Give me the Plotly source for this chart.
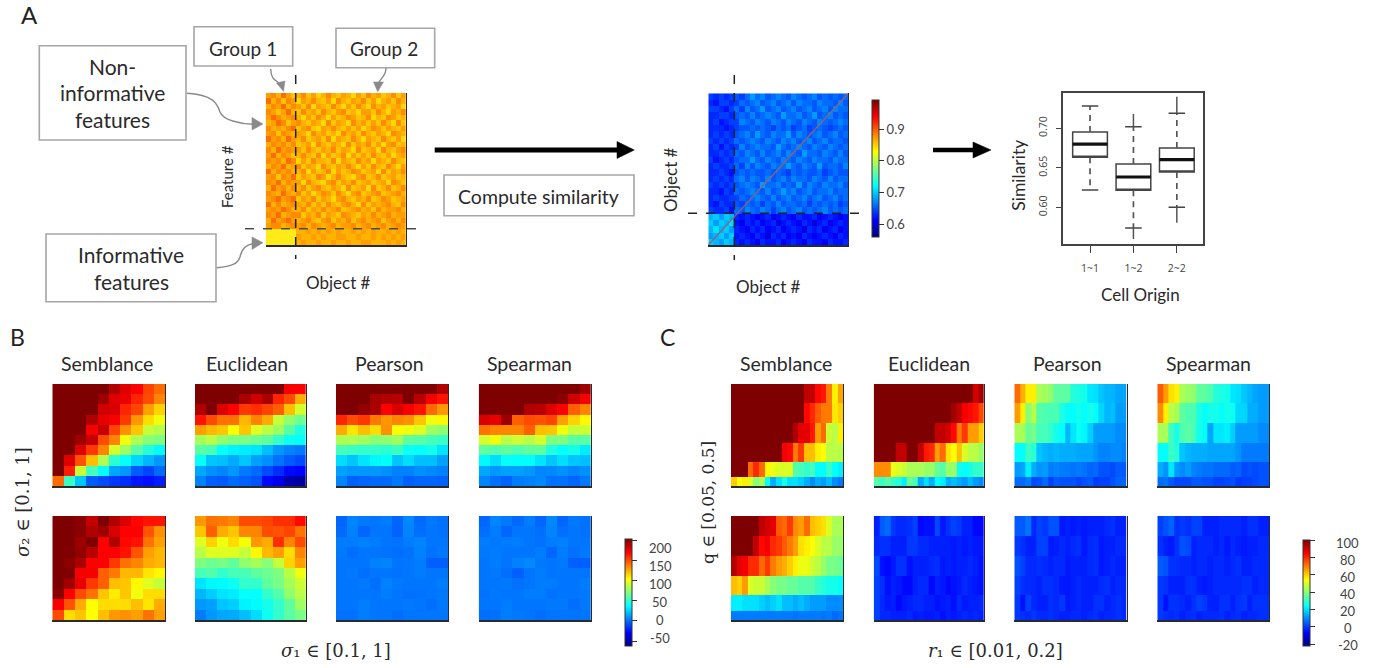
import plotly.graph_objects as go

W, H = 1382, 668

JET = [[0, "#00007F"], [0.125, "#0000FF"], [0.25, "#007FFF"], [0.375, "#00FFFF"], [0.5, "#7FFF7F"],
       [0.625, "#FFFF00"], [0.75, "#FF7F00"], [0.875, "#FF0000"], [1, "#7F0000"]]
HEAT = [[0, "#EE2C00"], [0.3, "#FF8400"], [0.5, "#FFA800"], [0.7, "#FFCC00"], [0.87, "#FFE800"], [1, "#FFFFA0"]]

# ---------- panel A: features (top row first) ----------
a_features = [
[4,3,5,2,4,6,5,3,6,4,7,5,3,5,6,4,5,7,4,6,3,5,4,6,5,3,6,4],
[2,5,3,6,3,4,7,4,5,3,5,6,4,7,3,5,6,4,5,3,6,4,7,5,4,6,3,5],
[5,3,4,2,5,3,4,6,3,7,4,5,6,3,5,7,4,6,3,5,7,3,5,4,6,5,4,7],
[3,4,6,4,2,5,6,3,5,4,6,3,5,6,4,3,6,5,7,4,4,6,3,5,7,4,5,3],
[4,2,3,5,4,3,5,7,4,6,3,5,7,4,6,5,3,4,6,5,3,7,5,6,3,4,6,5],
[5,4,2,3,6,4,3,5,6,4,5,7,3,6,4,5,7,3,5,4,6,4,6,3,5,7,3,6],
[3,5,4,5,3,2,6,4,3,6,7,4,5,3,5,6,4,6,4,7,5,3,4,6,4,5,6,4],
[4,3,6,3,4,5,4,5,7,3,5,4,6,5,7,3,5,4,6,3,5,6,4,5,7,3,4,5],
[2,4,3,5,2,4,5,3,6,5,4,6,3,7,4,5,6,3,5,7,4,5,6,3,5,6,4,7],
[5,3,4,3,5,3,6,5,4,7,3,5,6,4,5,7,3,6,4,5,3,6,4,7,4,3,6,5],
[3,5,2,4,3,4,4,6,3,5,6,4,5,3,6,4,5,7,3,6,5,4,7,3,5,6,4,3],
[4,2,5,3,4,6,5,3,5,6,3,7,4,6,5,3,7,4,6,4,6,3,5,6,4,7,5,4],
[3,4,3,5,2,3,7,4,6,3,5,5,6,3,7,4,5,6,3,5,4,7,4,5,6,3,5,6],
[5,3,4,2,5,4,3,6,4,5,7,3,5,6,4,5,3,5,7,4,6,3,5,6,3,5,7,4],
[2,5,3,4,3,5,5,3,7,4,6,5,3,7,4,6,5,3,4,6,5,4,7,3,6,4,5,3],
[4,3,6,3,4,2,6,4,5,6,3,4,7,5,3,5,6,7,4,3,6,5,3,6,5,4,6,5],
[3,4,2,5,3,4,4,7,3,5,6,7,4,3,6,4,5,3,6,5,4,6,5,4,7,3,4,6],
[5,2,4,3,5,3,5,3,6,4,3,5,6,4,5,7,3,6,5,4,7,3,6,5,3,6,5,3],
[3,4,5,2,4,5,3,6,4,7,5,3,4,6,3,5,7,4,3,6,5,4,3,6,5,4,3,5],
[4,3,2,4,3,2,6,4,5,3,6,4,5,7,4,3,5,6,4,5,3,6,5,3,4,6,5,4],
[2,5,3,5,4,3,4,5,3,6,4,6,3,5,6,4,3,5,7,3,6,4,5,4,3,5,6,3],
[4,3,4,2,3,5,5,3,6,4,5,3,5,4,3,6,5,4,3,5,4,6,3,5,4,4,3,5],
[3,4,2,5,4,3,3,6,4,5,3,6,4,5,6,3,4,5,6,4,5,3,5,4,3,5,4,4],
[5,2,4,3,2,4,5,4,3,5,6,4,3,6,4,5,3,6,4,3,5,4,3,6,4,3,5,3],
[4,3,3,5,4,3,4,3,5,3,4,5,4,3,5,4,4,3,5,4,3,5,4,3,5,4,3,4],
[8,8,8,8,8,8,5,5,4,5,4,5,4,5,4,5,5,4,5,4,5,4,5,5,4,5,4,5],
[8,8,8,8,8,8,4,5,5,4,5,4,5,5,4,4,5,5,4,5,5,4,5,4,5,4,5,4],
[8,8,8,8,8,8,5,4,5,5,4,5,5,4,5,5,4,5,5,4,4,5,5,5,4,5,4,5],
]

# ---------- panel A: similarity in hundredths (top row first) ----------
a_similarity = [
[64,63,64,63,64,65,64,66,68,66,67,65,66,67,66,65,67,66,65,66,67,65,66,65,66,65,66],
[63,62,64,64,63,64,66,65,66,67,65,66,67,65,66,67,65,67,66,66,65,67,66,66,65,67,65],
[64,64,63,62,64,66,64,67,65,66,68,65,66,67,65,66,67,65,66,67,65,66,67,65,67,66,66],
[63,63,64,64,63,65,66,65,67,65,66,67,66,65,68,66,66,67,65,66,68,65,66,67,65,66,65],
[63,64,62,63,64,64,67,66,65,67,66,65,67,66,65,67,66,65,67,66,65,67,66,65,66,67,66],
[63,63,63,62,63,64,65,65,66,65,66,65,64,66,65,66,64,65,66,64,65,66,65,64,65,66,65],
[63,64,63,64,63,65,66,67,65,68,66,65,67,66,66,68,65,67,66,65,66,67,65,66,67,65,66],
[64,63,64,63,64,66,65,66,67,66,65,67,66,65,67,66,67,65,66,67,65,66,67,65,66,66,65],
[63,64,62,64,63,64,67,65,66,67,66,66,65,68,66,65,66,67,66,65,67,66,65,67,66,65,66],
[63,63,64,63,64,66,65,67,66,65,67,65,66,67,65,67,66,65,68,66,66,65,67,66,65,67,65],
[64,62,63,64,63,65,66,66,68,66,65,67,66,65,67,66,65,67,66,65,67,66,66,65,67,66,66],
[63,64,63,63,64,66,64,67,65,67,66,65,67,66,66,68,66,65,67,66,65,68,65,66,66,65,67],
[63,63,64,63,62,65,66,65,66,65,65,66,65,66,65,64,66,65,66,65,65,66,64,65,66,65,65],
[63,64,63,64,63,66,67,65,67,66,65,67,65,66,67,65,67,66,66,65,67,66,65,67,65,66,66],
[64,63,64,63,64,65,66,67,66,65,68,66,66,67,65,66,65,68,65,67,66,65,67,66,66,67,65],
[63,63,62,64,63,66,65,66,67,66,65,67,65,66,68,66,67,65,66,67,65,66,66,67,65,66,66],
[63,64,63,63,64,64,66,65,66,67,66,65,67,65,66,67,65,66,67,65,66,67,65,66,67,65,66],
[63,62,64,63,63,65,64,66,65,66,64,66,65,67,65,66,66,65,66,64,66,65,66,65,66,64,65],
[64,63,63,64,62,66,65,67,66,65,67,66,64,66,67,65,66,67,65,66,65,66,67,65,66,65,66],
[69,70,68,70,69,63,62,63,62,61,62,63,61,62,63,62,61,63,62,62,63,61,62,63,62,61,62],
[70,68,70,69,71,62,61,63,62,63,61,62,63,60,62,63,62,61,63,62,60,62,63,61,62,63,62],
[69,71,69,70,68,63,62,61,63,62,63,61,62,63,61,62,63,62,60,63,62,63,61,62,63,61,62],
[68,69,70,68,70,62,63,62,61,63,62,60,63,62,63,61,62,61,63,62,61,62,63,62,61,63,62],
[70,69,68,70,69,63,62,63,62,61,63,62,62,63,61,62,63,62,61,63,62,62,61,63,62,62,63],
]
diag_x = [-0.5, 26.5]
diag_y = [-0.5, 23.5]

# ---------- panel A: boxplot ----------
box_x = [1, 2, 3]
box_labels = ["1~1", "1~2", "2~2"]
box_q1 = [0.6633, 0.6215, 0.6447]
box_median = [0.680, 0.6384, 0.6603]
box_q3 = [0.6953, 0.6548, 0.6751]
box_cap_low = [0.622, 0.5738, 0.600]
box_cap_high = [0.7282, 0.702, 0.719]
box_ext_low = [0.622, 0.560, 0.5805]
box_ext_high = [0.7282, 0.718, 0.740]

# ---------- panel B (top row first) ----------
b_semblance_top = [
[210,210,210,210,210,190,178,170,152,142],
[210,210,210,210,195,178,175,160,150,135],
[210,210,210,210,182,180,160,152,128,115],
[210,210,210,190,176,172,155,130,112,100],
[210,210,210,172,185,152,132,118,88,84],
[210,210,195,185,150,135,100,82,72,70],
[210,210,178,155,135,92,78,60,46,36],
[210,178,148,120,82,48,38,26,18,10],
[205,162,90,55,37,14,10,-6,-12,-2],
[142,52,22,-6,-10,-15,-18,-24,-26,-22]]
b_euclidean_top = [
[210,210,210,210,210,205,205,205,172,170],
[210,210,210,210,192,182,192,160,150,125],
[190,205,178,170,155,158,152,145,120,92],
[165,150,140,140,122,135,125,88,75,65],
[128,122,118,103,118,95,85,78,60,45],
[80,85,75,70,68,65,62,50,40,38],
[60,55,38,34,32,30,20,10,5,2],
[38,22,20,15,22,12,8,0,-6,-10],
[14,8,5,10,2,-2,-10,-18,-28,-30],
[4,-5,-6,-2,-5,-8,-28,-35,-50,-55]]
b_pearson_top = [
[210,210,210,210,210,210,210,210,210,190],
[210,210,210,192,190,188,205,188,172,165],
[210,205,198,192,170,180,172,165,142,130],
[160,150,155,138,130,135,132,118,100,105],
[125,110,120,112,132,102,100,95,78,74],
[82,82,78,72,74,78,62,60,55,52],
[55,52,50,50,48,52,40,38,42,30],
[28,22,30,35,37,22,28,20,20,12],
[12,10,10,10,8,4,4,8,6,4],
[5,-5,-3,-2,-2,2,-5,-3,-3,-4]]
b_spearman_top = [
[210,210,210,210,210,210,210,210,210,195],
[210,210,210,210,210,210,210,200,182,172],
[210,210,210,210,190,188,178,170,145,135],
[180,175,195,145,150,148,152,128,115,105],
[140,135,135,135,145,120,118,100,88,90],
[92,100,85,90,85,92,70,70,60,60],
[62,58,62,58,62,62,45,38,42,32],
[35,28,38,37,37,30,22,28,22,20],
[14,10,12,12,10,5,6,8,5,8],
[5,0,-4,3,4,6,0,0,-3,2]]
b_semblance_bottom = [
[210,210,200,185,205,190,180,168,165,165],
[210,205,200,190,195,180,170,170,148,132],
[210,208,195,205,170,190,168,165,140,128],
[210,205,198,188,170,170,165,148,128,122],
[210,200,192,170,170,155,140,135,125,122],
[210,205,172,172,145,138,122,122,110,105],
[210,195,175,155,145,120,118,105,95,88],
[200,170,150,140,118,108,118,100,112,112],
[172,148,125,103,112,112,112,120,110,125],
[150,112,118,103,120,130,132,128,140,128]]
b_euclidean_bottom = [
[130,140,138,135,150,150,152,158,158,168],
[118,145,125,118,135,135,150,148,152,140],
[95,115,100,112,102,130,125,158,135,150],
[85,95,95,95,88,105,122,128,112,135],
[70,65,68,62,75,80,72,88,115,128],
[55,58,50,55,55,62,65,70,85,100],
[30,35,36,40,50,50,62,68,80,90],
[18,24,30,32,38,38,50,58,75,85],
[10,12,22,24,34,36,42,50,62,78],
[3,10,14,15,20,28,40,50,60,68]]
b_pearson_bottom = [
[-3,5,2,1,3,-3,6,-2,2,0],
[-2,4,-3,1,1,-4,5,-1,1,0],
[3,3,4,3,1,0,3,5,1,1],
[2,-1,1,1,0,-1,0,4,0,2],
[1,1,1,4,5,1,1,3,-5,-5],
[1,2,-1,1,1,0,1,3,1,1],
[1,1,2,-1,4,2,1,1,1,3],
[1,1,1,1,3,1,0,0,1,2],
[1,1,3,1,1,1,2,1,-1,2],
[0,0,3,1,1,-1,1,1,1,1]]
b_spearman_bottom = [
[-3,5,2,-2,3,-3,6,-3,2,0],
[-1,3,-3,1,1,-1,5,-1,1,0],
[3,2,3,3,1,0,3,4,1,1],
[2,3,1,1,1,3,-3,3,0,2],
[1,3,1,4,6,2,1,2,-5,-5],
[1,2,-1,-5,1,3,1,1,1,1],
[1,1,2,0,1,3,3,1,1,3],
[0,2,1,1,3,3,0,1,1,2],
[1,1,3,1,1,1,2,2,-1,2],
[-1,0,3,2,1,-1,1,1,1,1]]

# ---------- panel C (top row first) ----------
q_edges = [0, 28, 73, 131, 190, 250, 308]
c_semblance_top = [
[100,100,100,100,100,100,100,100,100,100,100,100,100,92,92,84,82,70,56,65],
[100,100,100,100,100,100,100,100,100,100,100,100,100,84,80,74,70,70,57,60],
[100,100,100,100,100,100,100,100,100,100,100,94,88,88,82,66,72,48,46,56],
[100,100,100,100,100,100,100,100,100,86,84,70,78,62,62,56,54,46,46,46],
[100,100,100,72,80,72,55,52,50,50,50,34,32,30,32,24,24,30,24,22],
[60,54,56,50,40,44,24,14,20,26,20,20,18,14,10,14,12,16,10,8]]
c_euclidean_top = [
[100,100,100,100,100,100,100,100,100,100,100,100,100,100,100,100,100,100,90,96],
[100,100,100,100,100,100,100,100,100,100,100,100,100,100,96,92,86,84,82,76],
[100,100,100,100,100,100,100,100,100,100,100,92,92,90,84,70,78,66,66,60],
[100,100,100,100,92,92,100,100,92,82,80,66,72,58,54,62,50,46,46,42],
[68,68,68,52,50,48,44,44,44,42,42,36,34,42,42,26,24,26,30,30],
[34,30,34,30,28,22,36,32,14,20,14,24,22,14,16,14,12,16,12,10]]
c_pearson_top = [
[72,64,56,56,44,43,41,35,35,35,28,27,26,21,20,17,15,15,13,13],
[66,56,40,46,34,33,32,33,27,24,24,26,24,26,24,19,15,16,12,12],
[44,44,36,38,32,32,30,26,24,15,21,25,23,18,12,12,12,12,10,10],
[24,24,31,29,17,15,14,15,14,14,14,13,13,13,11,9,9,10,10,9],
[12,13,22,14,11,12,8,9,8,8,7,8,7,5,6,3,3,2,4,4],
[6,6,8,2,3,6,1,4,3,3,3,1,3,4,0,1,1,3,5,5]]
c_spearman_top = [
[74,66,58,56,44,42,41,35,35,33,28,27,26,21,20,17,15,13,12,12],
[68,56,46,44,35,33,33,27,24,26,26,24,26,25,19,19,14,14,12,12],
[44,44,31,26,33,35,32,26,24,13,21,21,22,18,12,12,12,12,10,10],
[24,24,31,28,17,15,14,14,14,13,13,13,13,13,11,8,8,8,8,8],
[14,11,21,12,10,12,9,8,7,7,6,6,6,4,5,2,3,2,3,3],
[6,7,4,2,2,2,4,4,3,3,1,1,2,3,0,1,1,2,3,3]]
c_semblance_bottom = [
[100,100,100,100,100,92,90,88,74,72,78,68,66,72,62,60,58,50,44,44],
[100,100,100,100,92,84,86,80,78,74,70,66,58,56,54,50,46,46,42,42],
[94,88,86,80,80,72,78,70,66,64,60,56,52,52,48,46,42,38,38,36],
[62,60,66,50,48,48,44,40,38,38,36,36,34,34,34,30,28,26,26,24],
[22,22,20,20,20,18,16,18,20,16,16,14,16,14,12,12,12,10,10,10],
[8,8,8,8,8,8,8,8,8,8,8,7,8,8,8,8,7,8,6,7]]
c_euclidean_bottom = [
[-3,4,6,0,-2,-2,-1,1,-6,-5,-5,2,-4,-1,1,0,-3,-3,-6,-6],
[-2,-1,-1,-3,-3,-3,0,0,-2,-2,-3,-3,-3,-3,-4,-3,-4,-3,-4,-4],
[2,-5,-6,-4,-1,-1,-5,-3,-3,-3,-2,-1,-4,-3,-4,-3,-3,-2,-3,-5],
[1,-1,-5,-3,-4,-6,-6,-3,-2,-2,-6,-3,-4,-6,-5,-4,-2,-3,-4,-5],
[1,-2,-4,-3,-6,-4,-3,-2,-2,-3,-3,-5,-4,-3,-5,-2,-4,-3,-3,-2],
[1,-2,-2,-3,-3,-3,-2,-4,-3,-4,-4,-3,-5,-3,-4,-3,-2,-3,-2,-3]]
c_pearson_bottom = [
[4,4,7,-2,1,0,3,3,-4,-3,-4,-3,-4,-3,-3,-3,-2,-1,-3,-3],
[0,-1,-3,-3,1,1,-4,-3,-2,-3,-2,-1,-4,-2,-1,-4,-3,-3,-2,-2],
[3,1,-2,-2,-1,-2,-3,-2,-2,-4,-3,-3,-3,-2,-1,-4,-3,-2,-3,-3],
[1,-1,-2,-2,-3,-1,-1,-2,-4,-4,-3,-2,-3,-3,-3,-2,-1,-3,-2,-2],
[0,-5,1,-2,-3,-3,-1,-2,0,-4,-3,-2,-3,-3,-1,-1,-3,-2,-1,-2],
[0,-1,-2,0,-2,-2,-1,-2,-3,-3,-2,-2,-3,-2,-1,-3,-2,-2,-1,-2]]
c_spearman_bottom = [
[1,3,5,-1,0,-1,1,1,-3,-3,-3,-2,-2,-2,-2,-3,-1,-1,-3,-3],
[-1,-3,-4,-1,3,2,-3,-2,-2,-2,-3,-2,-4,-2,-3,-4,-3,-3,-2,-2],
[4,3,-1,-1,-2,-2,-3,-2,-2,-3,-2,-2,-3,-2,-1,-3,-3,-2,-2,-2],
[0,-1,-3,-3,-3,-1,-1,-3,-4,-3,-2,-2,-2,-2,-2,-1,-1,-3,-2,-2],
[0,-5,-1,-1,-2,-3,-1,1,0,-3,-3,-1,-1,-3,-1,0,-3,-1,-1,-1],
[0,-1,-2,-1,-3,-2,-1,-3,-2,-2,-2,-1,-3,-2,-1,-3,-2,-2,-1,-1]]

# ---------- helpers ----------
SANS = "Lato"
INK = "#222222"
GREY = "#A6A6A6"
ARROW = "#8A8A8A"
fig = go.Figure()
layout = {}
annotations = []
shapes = []
counter = [0]


def fx(x):
    return x / W


def fy(y):
    return 1 - y / H


def new_axes(x0, x1, y0, y1):
    counter[0] += 1
    n = counter[0]
    s = "" if n == 1 else str(n)
    xname, yname = "x" + s, "y" + s
    layout["xaxis" + s] = dict(domain=[fx(x0), fx(x1)], anchor=yname, showgrid=False, zeroline=False,
                               showticklabels=False, ticks="", showline=True, linecolor="#2A2A2A", linewidth=1.5)
    layout["yaxis" + s] = dict(domain=[fy(y1), fy(y0)], anchor=xname, side="right", showgrid=False, zeroline=False,
                               showticklabels=False, ticks="", showline=True, linecolor="#2A2A2A", linewidth=1.2)
    return xname, yname, s


def heat(z, x0, x1, y0, y1, zmin, zmax, colorscale=JET, y=None, colorbar=None):
    xn, yn, s = new_axes(x0, x1, y0, y1)
    kw = dict(z=z[::-1], zmin=zmin, zmax=zmax, colorscale=colorscale, xaxis=xn, yaxis=yn,
              showscale=colorbar is not None)
    if y is not None:
        kw["y"] = y
    if colorbar is not None:
        kw["colorbar"] = colorbar
    fig.add_trace(go.Heatmap(**kw))
    return xn, yn, s


def bar(x0, x1, y0, y1, **extra):
    d = dict(x=fx(x0), xanchor="left", xpad=0, y=fy(y0), yanchor="top", ypad=0,
             thickness=x1 - x0, thicknessmode="pixels", len=y1 - y0, lenmode="pixels",
             outlinecolor="#333333", outlinewidth=1, ticks="outside", tickcolor="#333333",
             ticklen=5, tickwidth=1, tickfont=dict(family=SANS, size=13, color="#444444"))
    d.update(extra)
    return d


def label(text, x, y, size=16, angle=0, family=SANS, color="#2A2A2A"):
    annotations.append(dict(text=text, x=fx(x), y=fy(y), xref="paper", yref="paper", showarrow=False,
                            xanchor="center", yanchor="middle", textangle=angle,
                            font=dict(family=family, size=size, color=color)))


def box(x0, y0, x1, y1):
    shapes.append(dict(type="rect", xref="paper", yref="paper", x0=fx(x0), x1=fx(x1), y0=fy(y1), y1=fy(y0),
                       line=dict(color=GREY, width=1.6), fillcolor="white", layer="below"))


def hline(y, x0, x1, color=INK, width=1.5, dash="dash"):
    shapes.append(dict(type="line", xref="paper", yref="paper", x0=fx(x0), x1=fx(x1), y0=fy(y), y1=fy(y),
                       line=dict(color=color, width=width, dash=dash)))


def vline(x, y0, y1, color=INK, width=1.5, dash="dash"):
    shapes.append(dict(type="line", xref="paper", yref="paper", x0=fx(x), x1=fx(x), y0=fy(y0), y1=fy(y1),
                       line=dict(color=color, width=width, dash=dash)))


def curve(start, *segments):
    p = "M %.5f,%.5f" % (fx(start[0]), fy(start[1]))
    for c1, c2, e in segments:
        p += " C %.5f,%.5f %.5f,%.5f %.5f,%.5f" % (fx(c1[0]), fy(c1[1]), fx(c2[0]), fy(c2[1]), fx(e[0]), fy(e[1]))
    shapes.append(dict(type="path", path=p, xref="paper", yref="paper", line=dict(color=ARROW, width=1.4)))


def head(a, b, c, color=ARROW):
    p = "M %.5f,%.5f L %.5f,%.5f L %.5f,%.5f Z" % (fx(a[0]), fy(a[1]), fx(b[0]), fy(b[1]), fx(c[0]), fy(c[1]))
    shapes.append(dict(type="path", path=p, xref="paper", yref="paper", fillcolor=color, line=dict(color=color, width=0.5)))


# ---------- panel A ----------
heat(a_features, 265.7, 406, 93, 245, 0, 9, colorscale=HEAT)
xn, yn, s = heat([[v / 100 for v in row] for row in a_similarity], 708.3, 848.3, 93.3, 245, 0.559, 0.993,
                 colorbar=bar(871.7, 879, 100, 236.7, tickvals=[0.6, 0.7, 0.8, 0.9], ticktext=["0.6", "0.7", "0.8", "0.9"]))
layout["xaxis" + s]["range"] = [-0.5, 26.5]
layout["yaxis" + s]["range"] = [-0.5, 23.5]
fig.add_trace(go.Scatter(x=diag_x, y=diag_y, mode="lines", line=dict(color="#96606E", width=1.3),
                         xaxis=xn, yaxis=yn, showlegend=False, hoverinfo="skip"))

# boxplot
xn, yn, s = new_axes(1063.3, 1203.3, 93.3, 244.3)
layout["xaxis" + s].update(range=[0.384, 3.61], tickvals=box_x, ticktext=box_labels, showticklabels=True, ticks="outside",
                           ticklen=7, tickcolor="#444444", mirror=True, linecolor="#444444", linewidth=1.5,
                           ticklabelstandoff=6, tickfont=dict(family="Open Sans", size=10.5, color="#444444"))
layout["yaxis" + s].update(range=[0.5532, 0.7443], side="left", tickvals=[0.6, 0.65, 0.7], ticktext=["0.60", "0.65", "0.70"],
                           showticklabels=True, ticks="outside", ticklen=6, tickcolor="#444444", tickangle=-90, mirror=True,
                           linecolor="#444444", linewidth=1.5, ticklabelstandoff=4,
                           tickfont=dict(family="Open Sans", size=10.5, color="#444444"))
wx, wy, cx, cy, ex, ey, mx, my = [], [], [], [], [], [], [], []
for i, x in enumerate(box_x):
    wx += [x, x, None, x, x, None]
    wy += [box_q3[i], box_cap_high[i], None, box_q1[i], box_cap_low[i], None]
    cx += [x - 0.19, x + 0.19, None, x - 0.19, x + 0.19, None]
    cy += [box_cap_high[i], box_cap_high[i], None, box_cap_low[i], box_cap_low[i], None]
    ex += [x, x, None, x, x, None]
    ey += [box_cap_high[i], box_ext_high[i], None, box_cap_low[i], box_ext_low[i], None]
    mx += [x - 0.4, x + 0.4, None]
    my += [box_median[i], box_median[i], None]
fig.add_trace(go.Scatter(x=wx, y=wy, mode="lines", line=dict(color="#555555", width=1.7, dash="6px,5px"), xaxis=xn, yaxis=yn, showlegend=False))
fig.add_trace(go.Scatter(x=cx, y=cy, mode="lines", line=dict(color="#444444", width=1.4), xaxis=xn, yaxis=yn, showlegend=False))
fig.add_trace(go.Scatter(x=ex, y=ey, mode="lines", line=dict(color="#555555", width=1.5), xaxis=xn, yaxis=yn, showlegend=False))
fig.add_trace(go.Box(x=box_x, q1=box_q1, median=box_q1, q3=box_q3, lowerfence=box_q1, upperfence=box_q3, width=0.8,
                     fillcolor="white", line=dict(color="#444444", width=1.5), whiskerwidth=0, xaxis=xn, yaxis=yn, showlegend=False))
fig.add_trace(go.Scatter(x=mx, y=my, mode="lines", line=dict(color="#111111", width=3.2), xaxis=xn, yaxis=yn, showlegend=False))

# dashed guides
vline(295.7, 75, 259)
hline(228.7, 245, 423, color="#4A4A4A")
vline(734.3, 75, 260)
hline(213.3, 688, 859)

# callout boxes
box(194, 26.7, 292.7, 66)
box(336, 28.3, 434.7, 67.7)
box(39.3, 45.7, 186, 140)
box(46, 234, 216, 301.7)
box(444, 175, 634, 215.7)

# big arrows
shapes.append(dict(type="line", xref="paper", yref="paper", x0=fx(434.7), x1=fx(620), y0=fy(150), y1=fy(150), line=dict(color="black", width=5)))
head((634.3, 150), (617, 141.5), (617, 158.5), color="black")
shapes.append(dict(type="line", xref="paper", yref="paper", x0=fx(933), x1=fx(975), y0=fy(150), y1=fy(150), line=dict(color="black", width=4.5)))
head((991, 150), (973, 142), (973, 158), color="black")

# curved callout arrows
curve((270.7, 69), ((271, 80), (276, 80), (280, 84)))
head((283.5, 91.5), (276.5, 83), (285, 81))
curve((386, 68), ((386, 76), (381, 78), (378.5, 83)))
head((377.7, 91.7), (373.5, 82), (383.5, 82))
curve((187, 93.3), ((213, 95), (217, 103), (220, 112)), ((223, 120), (240, 124), (253, 124.3)))
head((263, 124), (252, 117.5), (252, 130))
curve((216.7, 267.7), ((233, 266.7), (238, 263), (240, 257)), ((242, 248), (246, 245), (253, 243.5)))
head((263, 242.7), (252, 237), (252, 249.5))

# panel A text
label("A", 29, 15, size=24, color="#222222")
label("Group 1", 243, 48, size=19)
label("Group 2", 384, 48, size=19)
label("Non-", 112, 66, size=21)
label("informative", 112, 93, size=21)
label("features", 112, 120, size=21)
label("Informative", 131, 255, size=21)
label("features", 131, 282, size=21)
label("Feature #", 227, 177, size=15, angle=-90)
label("Object #", 338, 283, size=17)
label("Compute similarity", 538, 196, size=19.5)
label("Object #", 670, 180, size=17, angle=-90)
label("Object #", 769, 286, size=17)
label("Similarity", 1017.7, 175, size=17.5, angle=-90)
label("Cell Origin", 1140.7, 295, size=17)

# ---------- panels B and C ----------
B_MIN, B_MAX = -63, 203
C_MIN, C_MAX = -22, 100
b_cols = [(52.3, 165), (195, 305.7), (336, 448.3), (478.7, 591)]
c_cols = [(731, 843.3), (873.7, 984), (1014.3, 1126.7), (1157.3, 1269.3)]
row_top = (384, 486)
row_bot = (516, 620)
b_top = [b_semblance_top, b_euclidean_top, b_pearson_top, b_spearman_top]
b_bot = [b_semblance_bottom, b_euclidean_bottom, b_pearson_bottom, b_spearman_bottom]
c_top = [c_semblance_top, c_euclidean_top, c_pearson_top, c_spearman_top]
c_bot = [c_semblance_bottom, c_euclidean_bottom, c_pearson_bottom, c_spearman_bottom]
titles = ["Semblance", "Euclidean", "Pearson", "Spearman"]

b_cbar = bar(624.7, 632, 539.3, 646, tickvals=[200, 150, 100, 50, 0, -50], showticklabels=False)
c_cbar = bar(1303.3, 1310.7, 540, 646, tickvals=[100, 80, 60, 40, 20, 0, -20], showticklabels=False)

for i, (x0, x1) in enumerate(b_cols):
    heat(b_top[i], x0, x1, *row_top, B_MIN, B_MAX)
    heat(b_bot[i], x0, x1, *row_bot, B_MIN, B_MAX, colorbar=b_cbar if i == 3 else None)
for i, (x0, x1) in enumerate(c_cols):
    heat(c_top[i], x0, x1, *row_top, C_MIN, C_MAX, y=q_edges)
    heat(c_bot[i], x0, x1, *row_bot, C_MIN, C_MAX, y=q_edges, colorbar=c_cbar if i == 3 else None)

for name, x in zip(titles, [107, 247, 389, 529]):
    label(name, x, 363, size=19.5)
for name, x in zip(titles, [786, 929, 1067, 1208]):
    label(name, x, 363, size=19.5)

label("B", 17, 337, size=23, color="#222222")
label("C", 667, 337, size=23, color="#222222")

for text, y in zip(["200", "150", "100", "50", "0", "-50"], [548, 566, 584, 601.7, 620, 638]):
    label(text, 660, y, size=13, color="#444444")
for text, y in zip(["100", "80", "60", "40", "20", "0", "-20"], [542.7, 560, 576.7, 594.3, 611, 628.3, 645]):
    label(text, 1347.7, y, size=13, color="#444444")

SERIF = "DejaVu Serif"
label("<i>σ</i>₂ ∈ [0.1, 1]", 22, 502, size=18, angle=-90, family=SERIF)
label("<i>σ</i>₁ ∈ [0.1, 1]", 336, 650, size=18, family=SERIF)
label("q ∈ [0.05, 0.5]", 708, 503, size=17, angle=-90, family=SERIF)
label("<i>r</i>₁ ∈ [0.01, 0.2]", 995, 650, size=18, family=SERIF)

fig.update_layout(width=W, height=H, margin=dict(l=0, r=0, t=0, b=0), autosize=False,
                  paper_bgcolor="white", plot_bgcolor="white", showlegend=False,
                  annotations=annotations, shapes=shapes, **layout)
fig.write_html("out.html", config=dict(displayModeBar=False), post_script="document.body.style.margin='0';")
